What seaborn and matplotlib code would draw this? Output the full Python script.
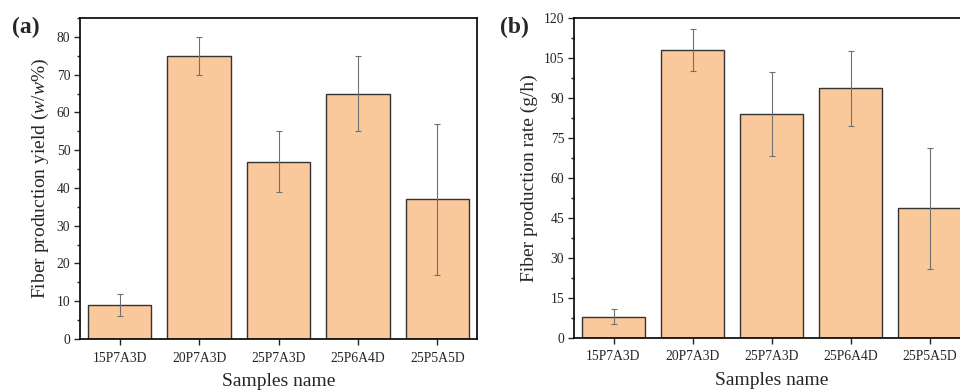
import numpy as np
import pandas as pd
import matplotlib
matplotlib.use("Agg")
import matplotlib.pyplot as plt
import seaborn as sns

# data
samples = ["15P7A3D", "20P7A3D", "25P7A3D", "25P6A4D", "25P5A5D"]
yield_mean = [9, 75, 47, 65, 37]
yield_err = [3, 5, 8, 10, 20]
rate_mean = [8.0, 108, 84, 93.6, 48.6]
rate_err = [2.7, 8, 15.7, 14.2, 22.6]

sns.set_style("ticks")
plt.rcParams["font.family"] = ["Liberation Serif", "DejaVu Serif"]
plt.rcParams["mathtext.fontset"] = "custom"
plt.rcParams["mathtext.rm"] = "Liberation Serif"
plt.rcParams["mathtext.it"] = "Liberation Serif:italic"

bar_color = "#F9C89B"

fig = plt.figure(figsize=(9.6, 3.92), dpi=100)
ax_a = fig.add_axes([80 / 960, 53 / 392, 397 / 960, 321 / 392])
ax_b = fig.add_axes([574 / 960, 54 / 392, 395 / 960, 320 / 392])


def draw_panel(ax, means, errs, ylabel, ymax, major, letter, lx):
    df = pd.DataFrame({"Sample": samples, "Value": means})
    sns.barplot(data=df, x="Sample", y="Value", color=bar_color, saturation=1,
                edgecolor="#333333", linewidth=1.0, width=0.8, errorbar=None, ax=ax)
    xs = ax.get_xticks()
    ax.errorbar(xs, means, yerr=errs, fmt="none", ecolor="#707070",
                elinewidth=0.8, capsize=2.2, capthick=0.8)
    ax.set_xlim(-0.5, 4.5)
    ax.set_ylim(0, ymax)
    ax.set_yticks(np.arange(0, ymax + 0.01, major))
    ax.yaxis.set_minor_locator(matplotlib.ticker.MultipleLocator(major / 2))
    ax.tick_params(axis="both", which="major", direction="out", length=4, width=1,
                   labelsize=9.8, top=False, right=False, pad=3)
    ax.tick_params(axis="x", which="major", pad=5)
    ax.tick_params(axis="y", which="minor", direction="out", length=2.5, width=1)
    for s in ax.spines.values():
        s.set_visible(True)
        s.set_linewidth(1.2)
        s.set_color("black")
    ax.set_xlabel("Samples name", fontsize=14, labelpad=6)
    ax.set_ylabel(ylabel, fontsize=14, labelpad=4)
    ax.text(lx, 1.005, letter, transform=ax.transAxes, fontsize=17,
            fontweight="bold", ha="left", va="top")


draw_panel(ax_a, yield_mean, yield_err,
           r"Fiber production yield ($\mathit{w/w}$%)", 85, 10, "(a)", -0.172)
draw_panel(ax_b, rate_mean, rate_err,
           "Fiber production rate (g/h)", 120, 15, "(b)", -0.187)

fig.savefig("out.png", dpi=100)
